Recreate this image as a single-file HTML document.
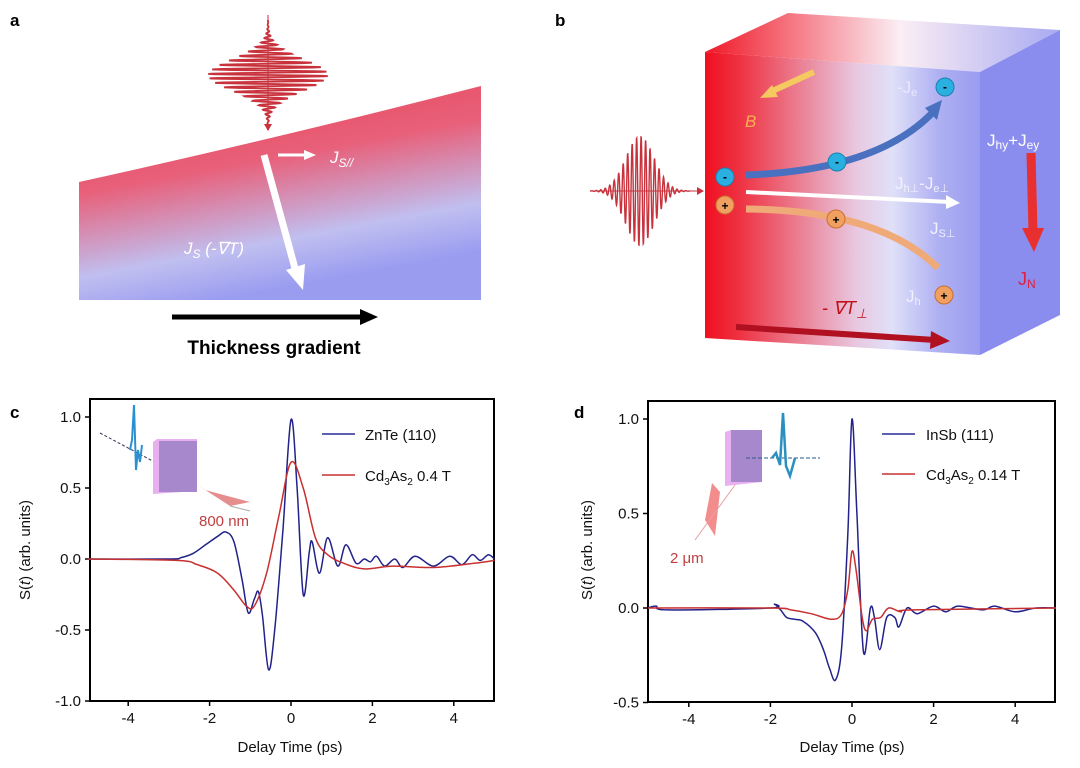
<!DOCTYPE html>
<html><head><meta charset="utf-8"><style>
html,body{margin:0;padding:0;background:#fff;}
svg{display:block;font-family:"Liberation Sans",sans-serif;}
</style></head><body>
<svg id="s" width="1080" height="768" viewBox="0 0 1080 768">
<defs>
<linearGradient id="ga" x1="0" y1="0" x2="0.35" y2="1">
<stop offset="0" stop-color="#e6404f"/><stop offset="0.45" stop-color="#e8607a"/><stop offset="0.8" stop-color="#c0bff0"/><stop offset="1" stop-color="#9a9cf0"/></linearGradient>
<linearGradient id="gb" x1="0" y1="0" x2="1" y2="0">
<stop offset="0" stop-color="#f01020"/><stop offset="0.12" stop-color="#ee3040"/><stop offset="0.55" stop-color="#e8c8e0"/><stop offset="0.68" stop-color="#e0e0f8"/><stop offset="0.85" stop-color="#aeb0f2"/><stop offset="1" stop-color="#9a9cf0"/></linearGradient>
<linearGradient id="gt" x1="0" y1="0" x2="1" y2="0">
<stop offset="0" stop-color="#f01828"/><stop offset="0.55" stop-color="#fbeef4"/><stop offset="1" stop-color="#a8aaf2"/></linearGradient>
</defs>
<text x="10" y="26" font-size="17" font-weight="bold">a</text>
<text x="555" y="26" font-size="17" font-weight="bold">b</text>
<text x="10" y="418" font-size="17" font-weight="bold">c</text>
<text x="574" y="418" font-size="17" font-weight="bold">d</text>
<!-- panel a -->
<path d="M79,182 Q270,140 481,86 L481,300 L79,300 Z" fill="url(#ga)"/>
<g id="pulseA" stroke="#c8323c" stroke-width="1.8" fill="none"></g>
<line x1="268" y1="15" x2="268" y2="128" stroke="#c8323c" stroke-width="1"/>
<path d="M264,124 L268,131 L272,124Z" fill="#c8323c"/>
<path d="M278,155 L305,155" stroke="#fff" stroke-width="3"/><path d="M304,150 L316,155 L304,160Z" fill="#fff"/>
<text x="330" y="163" fill="#fff" font-size="17" font-style="italic">J<tspan font-size="12" dy="4">S//</tspan></text>
<path d="M264,155 L296,272" stroke="#fff" stroke-width="7"/><path d="M286,270 L303,290 L305,264Z" fill="#fff"/>
<text x="184" y="254" fill="#fff" font-size="17" font-style="italic">J<tspan font-size="12" dy="4">S</tspan><tspan dy="-4"> (-∇T)</tspan></text>
<line x1="172" y1="317" x2="362" y2="317" stroke="#000" stroke-width="5"/><path d="M360,309 L378,317 L360,325Z"/>
<text x="274" y="354" font-size="19" font-weight="bold" text-anchor="middle">Thickness gradient</text>
<!-- panel b -->
<path d="M705,52 L788,13 L1060,30 L980,72Z" fill="url(#gt)"/>
<path d="M980,72 L1060,30 L1060,315 L980,355Z" fill="#8a8cee"/>
<path d="M705,52 L980,72 L980,355 L705,338Z" fill="url(#gb)"/>
<g id="pulseB" stroke="#c8323c" stroke-width="1.4" fill="none"></g>
<line x1="590" y1="191" x2="700" y2="191" stroke="#c8323c" stroke-width="1"/>
<path d="M697,187 L704,191 L697,195Z" fill="#c8323c"/>
<path d="M814,72 L768,93" stroke="#f6c860" stroke-width="6"/><path d="M772,85 L760,98 L778,97Z" fill="#f6c860"/>
<text x="745" y="127" fill="#f5b050" font-size="17" font-style="italic">B</text>
<path d="M746,175 Q880,170 935,110" stroke="#4a70c0" stroke-width="7" fill="none"/><path d="M925,108 L942,100 L937,120Z" fill="#4a70c0"/>
<path d="M746,192 L950,202" stroke="#fff" stroke-width="4"/><path d="M946,195 L960,203 L946,209Z" fill="#fff"/>
<path d="M746,209 Q880,210 938,268" stroke="#f0aa78" stroke-width="7" fill="none"/>
<g font-size="12" font-weight="bold" text-anchor="middle">
<circle cx="725" cy="177" r="9" fill="#2ab0e0" stroke="#1a80b0"/><text x="725" y="181">-</text>
<circle cx="837" cy="162" r="9" fill="#2ab0e0" stroke="#1a80b0"/><text x="837" y="166">-</text>
<circle cx="945" cy="87" r="9" fill="#2ab0e0" stroke="#1a80b0"/><text x="945" y="91">-</text>
<circle cx="725" cy="205" r="9" fill="#f0a060" stroke="#c87030"/><text x="725" y="210">+</text>
<circle cx="836" cy="219" r="9" fill="#f0a060" stroke="#c87030"/><text x="836" y="224">+</text>
<circle cx="944" cy="295" r="9" fill="#f0a060" stroke="#c87030"/><text x="944" y="300">+</text>
</g>
<g fill="#fff" font-size="17">
<text x="897" y="93" fill="#e8e8ff">-J<tspan font-size="11" dy="3">e</tspan></text>
<text x="895" y="189" fill="#f0f0ff">J<tspan font-size="11" dy="3">h⊥</tspan><tspan dy="-3">-J</tspan><tspan font-size="11" dy="3">e⊥</tspan></text>
<text x="930" y="234" fill="#f0f0ff">J<tspan font-size="11" dy="3">S⊥</tspan></text>
<text x="906" y="302" fill="#f0f0ff">J<tspan font-size="11" dy="3">h</tspan></text>
<text x="987" y="146">J<tspan font-size="12" dy="3">hy</tspan><tspan dy="-3">+J</tspan><tspan font-size="12" dy="3">ey</tspan></text>
</g>
<path d="M1031,153 L1033,232" stroke="#e83030" stroke-width="9"/><path d="M1022,228 L1034,252 L1044,228Z" fill="#e83030"/>
<text x="1018" y="285" fill="#e02040" font-size="18">J<tspan font-size="12" dy="3">N</tspan></text>
<text x="822" y="314" fill="#c0101a" font-size="18" font-style="italic">- ∇T<tspan font-size="13" dy="4">⊥</tspan></text>
<path d="M736,327 L935,340" stroke="#b01020" stroke-width="6"/><path d="M931,331 L950,341 L930,349Z" fill="#b01020"/>
<!-- panel c -->
<g font-size="15" fill="#111">
<rect x="90" y="399" width="404" height="302" fill="none" stroke="#000" stroke-width="2"/>
<g id="tc"></g>
<text x="290" y="752" text-anchor="middle">Delay Time (ps)</text>
<text transform="translate(30,550) rotate(-90)" text-anchor="middle">S(<tspan font-style="italic">t</tspan>) (arb. units)</text>
<line x1="322" y1="434" x2="355" y2="434" stroke="#2a2a9a" stroke-width="1.5"/>
<text x="365" y="440">ZnTe (110)</text>
<line x1="322" y1="475" x2="355" y2="475" stroke="#c83030" stroke-width="1.5"/>
<text x="365" y="481">Cd<tspan font-size="10" dy="4">3</tspan><tspan dy="-4">As</tspan><tspan font-size="10" dy="4">2</tspan><tspan dy="-4"> 0.4 T</tspan></text>
<text x="199" y="526" fill="#c04040">800 nm</text>
</g>
<line x1="100" y1="433" x2="162" y2="466" stroke="#335" stroke-dasharray="3,2"/>
<path d="M130,450 L132,440 L134,405 L136,470 L138,450 L140,462 L142,445" stroke="#2a90d0" stroke-width="2" fill="none"/>
<path d="M153,442 L157,439 L197,439 L197,491 L153,494Z" fill="#e8b0f0"/>
<rect x="159" y="441" width="38" height="51" fill="#a888cc"/>
<path d="M196,484 L230,506 L250,502 L205,490Z" fill="#e07070" opacity="0.8"/>
<line x1="230" y1="506" x2="250" y2="511" stroke="#aaa"/>
<!-- panel d -->
<g font-size="15" fill="#111">
<rect x="648" y="401" width="407" height="301" fill="none" stroke="#000" stroke-width="2"/>
<g id="td"></g>
<text x="852" y="752" text-anchor="middle">Delay Time (ps)</text>
<text transform="translate(592,550) rotate(-90)" text-anchor="middle">S(<tspan font-style="italic">t</tspan>) (arb. units)</text>
<line x1="882" y1="434" x2="915" y2="434" stroke="#2a2a9a" stroke-width="1.5"/>
<text x="926" y="440">InSb (111)</text>
<line x1="882" y1="474" x2="915" y2="474" stroke="#c83030" stroke-width="1.5"/>
<text x="926" y="480">Cd<tspan font-size="10" dy="4">3</tspan><tspan dy="-4">As</tspan><tspan font-size="10" dy="4">2</tspan><tspan dy="-4"> 0.14 T</tspan></text>
<text x="670" y="563" fill="#c04040">2  μm</text>
</g>
<path d="M725,432 L731,430 L762,430 L762,482 L725,486Z" fill="#e8b0f0"/>
<rect x="731" y="430" width="31" height="52" fill="#a888cc"/>
<line x1="746" y1="458" x2="820" y2="458" stroke="#2a5a90" stroke-dasharray="4,2"/>
<path d="M772,458 L776,453 L780,465 L783,413 L786,466 L790,476 L795,458" stroke="#2a90c0" stroke-width="2.5" fill="none"/>
<path d="M712,483 L720,492 L715,536 L705,520Z" fill="#f07070" opacity="0.8"/>
<line x1="695" y1="540" x2="735" y2="485" stroke="#e8a0a0"/>
<g id="curves" fill="none" stroke-width="1.5"></g>
</svg>
<script>
var NS="http://www.w3.org/2000/svg";
function el(p,t,a,txt){var e=document.createElementNS(NS,t);for(var k in a)e.setAttribute(k,a[k]);if(txt!=null)e.textContent=txt;p.appendChild(e);return e;}
function cr(pts){var d="M"+pts[0][0].toFixed(1)+","+pts[0][1].toFixed(1);for(var i=0;i<pts.length-1;i++){var p0=pts[Math.max(i-1,0)],p1=pts[i],p2=pts[i+1],p3=pts[Math.min(i+2,pts.length-1)];var c1=[p1[0]+(p2[0]-p0[0])/6,p1[1]+(p2[1]-p0[1])/6],c2=[p2[0]-(p3[0]-p1[0])/6,p2[1]-(p3[1]-p1[1])/6];d+=" C"+c1[0].toFixed(1)+","+c1[1].toFixed(1)+" "+c2[0].toFixed(1)+","+c2[1].toFixed(1)+" "+p2[0].toFixed(1)+","+p2[1].toFixed(1);}return d;}
var C={x0:291,sx:40.7,y0:559,sy:142},D={x0:852,sx:40.8,y0:608,sy:189};
function map(P,a){return a.map(function(q){return [P.x0+q[0]*P.sx,P.y0-q[1]*P.sy];});}
var g=document.getElementById("curves");
var cb=[[-5,0],[-3,0],[-2.7,0.01],[-2.4,0.04],[-2.1,0.1],[-1.8,0.16],[-1.6,0.19],[-1.4,0.12],[-1.2,-0.15],[-1.05,-0.38],[-0.9,-0.28],[-0.8,-0.23],[-0.7,-0.4],[-0.55,-0.78],[-0.4,-0.5],[-0.2,0.2],[0,0.98],[0.15,0.5],[0.3,-0.25],[0.45,0.05],[0.52,0.12],[0.7,-0.1],[0.9,0.15],[1.15,-0.05],[1.35,0.1],[1.6,-0.03],[1.8,0],[1.95,-0.02],[2.1,0.02],[2.3,-0.05],[2.55,0],[2.75,-0.06],[3.05,0.02],[3.5,-0.05],[3.9,0.02],[4.2,-0.04],[4.45,0.03],[4.65,-0.01],[4.85,0.03],[5,0]];
var cr_=[[-5,0],[-2.8,-0.01],[-2.3,-0.04],[-1.8,-0.1],[-1.4,-0.22],[-1.1,-0.33],[-0.9,-0.33],[-0.6,-0.1],[-0.3,0.3],[0,0.68],[0.3,0.5],[0.6,0.15],[0.9,0.03],[1.3,-0.03],[1.8,-0.07],[2.5,-0.05],[3.5,-0.06],[4.5,-0.03],[5,-0.01]];
var db=[[-5,0],[-4.8,0.01],[-4.5,-0.01],[-2,0],[-1.9,0.02],[-1.75,-0.01],[-1.6,-0.05],[-1.4,-0.06],[-1.2,-0.07],[-0.9,-0.13],[-0.7,-0.22],[-0.55,-0.32],[-0.4,-0.38],[-0.25,-0.2],[-0.1,0.4],[0,1.0],[0.12,0.5],[0.28,-0.23],[0.45,0],[0.55,-0.05],[0.68,-0.22],[0.85,-0.05],[1.05,-0.05],[1.15,-0.1],[1.35,0],[1.6,-0.03],[2,0.01],[2.3,-0.02],[2.6,0.01],[3.2,-0.01],[3.5,0.01],[4,-0.02],[4.5,0],[5,0]];
var dr=[[-5,0],[-2,0],[-1.5,-0.01],[-1,-0.03],[-0.5,-0.06],[-0.25,-0.03],[-0.1,0.1],[0,0.3],[0.1,0.2],[0.25,-0.05],[0.35,-0.12],[0.5,-0.06],[0.7,-0.05],[0.9,0],[1.2,-0.02],[1.5,-0.01],[5,0]];
el(g,"path",{d:cr(map(C,cb)),stroke:"#22228a"});
el(g,"path",{d:cr(map(C,cr_)),stroke:"#c83030"});
el(g,"path",{d:cr(map(D,db)),stroke:"#22228a"});
el(g,"path",{d:cr(map(D,dr)),stroke:"#c83030"});
function ticks(id,P,ys,bot,left){var t=document.getElementById(id);[-4,-2,0,2,4].forEach(function(v){var x=P.x0+v*P.sx;el(t,"line",{x1:x,y1:bot,x2:x,y2:bot+5,stroke:"#000","stroke-width":1.5});el(t,"text",{x:x,y:bot+22,"text-anchor":"middle"},v);});
ys.forEach(function(v){var y=P.y0-v*P.sy;el(t,"line",{x1:left-5,y1:y,x2:left,y2:y,stroke:"#000","stroke-width":1.5});el(t,"text",{x:left-9,y:y+5,"text-anchor":"end"},v.toFixed(1));});}
ticks("tc",C,[1,0.5,0,-0.5,-1],701,90);
ticks("td",D,[1,0.5,0,-0.5],702,648);
function pulse(id,cx,cy,horiz,len,amp){var p=document.getElementById(id),d="";for(var i=0;i<=400;i++){var s=(i/400-0.5)*len;var env=Math.exp(-s*s/(2*(len/7)*(len/7)));var v=amp*env*Math.sin(s*1.4);d+=(i?"L":"M")+(horiz?(cx+s)+","+(cy-v):(cx+v)+","+(cy+s));}el(p,"path",{d:d});}
pulse("pulseA",268,75,false,110,60);
pulse("pulseB",640,191,true,100,55);
</script>
</body></html>
